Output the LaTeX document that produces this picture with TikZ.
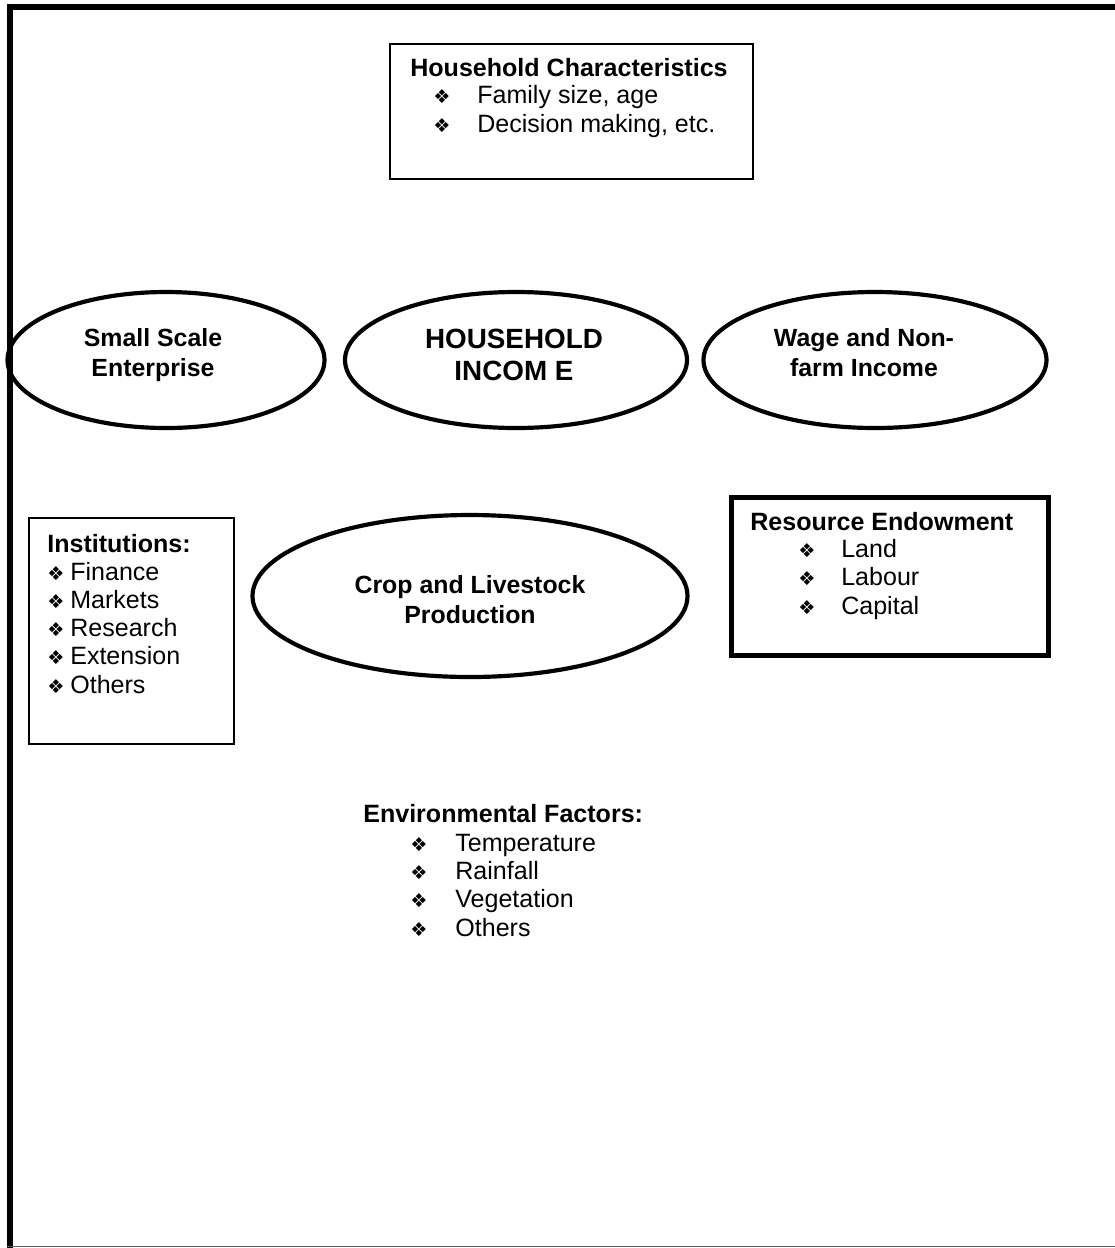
\documentclass[tikz,border=0pt]{standalone}
\usepackage{fontspec}
\setmainfont{Liberation Sans}
\newfontfamily\dejavu{DejaVu Sans}
\usetikzlibrary{shapes.geometric}
\newcommand{\dia}{{\dejavu\fontsize{11}{11}\selectfont ❖}}
\newcommand{\itm}[2]{\makebox[#1][l]{\dia}#2}

\begin{document}
\begin{tikzpicture}[x=0.575pt,y=-0.575pt]
		\tikzstyle{oval} = [ellipse,draw=black,line width=2.4pt,inner sep=0pt];
		\tikzstyle{box} = [rectangle,draw=black,inner sep=0pt,anchor=north west];
		\tikzstyle{lbl} = [anchor=base,inner sep=0pt,align=center,font=\fontsize{14.3}{16.7}\selectfont\bfseries];
		\tikzstyle{head} = [anchor=base west,inner sep=0pt,font=\fontsize{14.4}{16.2}\selectfont\bfseries];
		\tikzstyle{list} = [anchor=base west,inner sep=0pt,align=left,font=\fontsize{14.4}{16.2}\selectfont];
		\useasboundingbox (0,0) rectangle (1115,1248);
		% frame
		\coordinate (fbl) at (10,1252);
		\coordinate (ftl) at (10,7);
		\coordinate (ftr) at (1120,7);
		\coordinate (fbl2) at (7,1246.5);
		\coordinate (fbr) at (1115,1246.5);
		\draw[line width=3.45pt] (fbl) -- (ftl) -- (ftr);
		\draw[black!65,line width=1pt] (fbl2) -- (fbr);
		% household characteristics (multi-line nodes sit on their last baseline)
		\node[box,line width=1.2pt,minimum width=363*0.575pt,minimum height=135*0.575pt] (hhc) at (389,43) {};
		\node[head] (hhc-t) at (410,76) {Household Characteristics};
		\node[list] (hhc-l) at (433,132) {\itm{25.3pt}{Family size, age}\\\itm{25.3pt}{Decision making, etc.}};
		% income ellipses
		\node[oval,minimum width=317*0.575pt,minimum height=136*0.575pt] (sse) at (166,360) {};
		\node[lbl] (sse-t) at (153,376) {Small Scale\\Enterprise};
		\node[oval,minimum width=342*0.575pt,minimum height=136*0.575pt] (inc) at (516,360) {};
		\node[lbl,font=\fontsize{16}{18.4}\selectfont\bfseries] (inc-t) at (514,380) {HOUSEHOLD\\INCOM E};
		\node[oval,minimum width=343*0.575pt,minimum height=136*0.575pt] (wage) at (875,360) {};
		\node[lbl] (wage-t) at (864,376) {Wage and Non-\\farm Income};
		% institutions
		\node[box,line width=1.2pt,minimum width=205*0.575pt,minimum height=226*0.575pt] (inst) at (28,517) {};
		\node[head] (inst-t) at (47,552) {Institutions:};
		\node[list] (inst-l) at (47,693) {\itm{13.2pt}{Finance}\\\itm{13.2pt}{Markets}\\\itm{13.2pt}{Research}\\\itm{13.2pt}{Extension}\\\itm{13.2pt}{Others}};
		% crop and livestock
		\node[oval,minimum width=435*0.575pt,minimum height=162*0.575pt] (crop) at (470,596) {};
		\node[lbl] (crop-t) at (470,623) {Crop and Livestock\\Production};
		% resource endowment
		\node[box,line width=2.9pt,minimum width=317*0.575pt,minimum height=158*0.575pt] (res) at (729,495) {};
		\node[head] (res-t) at (750,530) {Resource Endowment};
		\node[list] (res-l) at (798,614) {\itm{24.7pt}{Land}\\\itm{24.7pt}{Labour}\\\itm{24.7pt}{Capital}};
		% environmental factors
		\node[head] (env-t) at (363,822) {Environmental Factors:};
		\node[list] (env-l) at (410,936) {\itm{25.9pt}{Temperature}\\\itm{25.9pt}{Rainfall}\\\itm{25.9pt}{Vegetation}\\\itm{25.9pt}{Others}};
	\end{tikzpicture}
\end{document}
